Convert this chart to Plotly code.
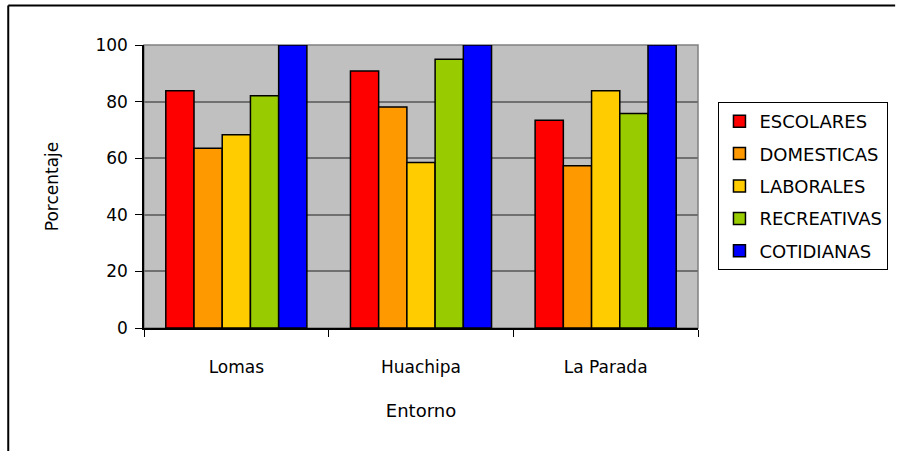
import plotly.graph_objects as go

# Survey results by setting (percent of respondents)
entornos = ["Lomas", "Huachipa", "La Parada"]
series_names = ["ESCOLARES", "DOMESTICAS", "LABORALES", "RECREATIVAS", "COTIDIANAS"]
escolares = [83.8, 90.8, 73.4]
domesticas = [63.5, 78.1, 57.3]
laborales = [68.3, 58.5, 83.8]
recreativas = [82.1, 95.0, 75.8]
cotidianas = [100, 100, 100]
y_ticks = [0, 20, 40, 60, 80, 100]

series_values = [escolares, domesticas, laborales, recreativas, cotidianas]
colors = ["#FF0000", "#FF9900", "#FFCC00", "#99CC00", "#0000FF"]

FONT = "DejaVu Sans"

fig = go.Figure()
for i, (name, vals, col) in enumerate(zip(series_names, series_values, colors)):
    fig.add_trace(go.Bar(
        x=entornos, y=vals, name=name, legendgroup=name,
        marker=dict(color=col, line=dict(color="black", width=1.5)),
    ))

# plot-area pixel geometry: x 143.5..698.5, y 45..328
L, R, T, B = 143.5, 698.5, 45, 328
W, H = R - L, B - T


def px(x):
    return (x - L) / W


def py(y):
    return (B - y) / H


shapes = [
    # plot-area frame in gray
    dict(type="rect", xref="paper", yref="paper", x0=0, x1=1, y0=0, y1=1,
         line=dict(color="#808080", width=1.5), layer="below"),
    # outer chart frame (left and top edges)
    dict(type="line", xref="paper", yref="paper", x0=px(7.5), x1=px(7.5),
         y0=py(5.5), y1=py(470), line=dict(color="black", width=2)),
    dict(type="line", xref="paper", yref="paper", x0=px(7.5), x1=px(896),
         y0=py(5.5), y1=py(5.5), line=dict(color="black", width=2)),
]

fig.update_layout(
    width=900, height=451,
    margin=dict(l=L, r=900 - R, t=T, b=451 - B),
    paper_bgcolor="white",
    plot_bgcolor="#C0C0C0",
    barmode="group",
    bargap=0.236,
    bargroupgap=0,
    font=dict(family=FONT, color="black", size=15),
    showlegend=True,
    legend=dict(
        x=px(719), y=py(102), xanchor="left", yanchor="top",
        bordercolor="black", borderwidth=1, bgcolor="white",
        font=dict(family=FONT, size=18, color="black"),
        traceorder="grouped", tracegroupgap=6,
        itemwidth=30,
    ),
    shapes=shapes,
)

fig.update_xaxes(
    title=dict(text="Entorno", font=dict(family=FONT, size=18), standoff=28),
    showline=True, linecolor="black", linewidth=1.5,
    ticks="outside", tickson="boundaries", ticklen=7, tickcolor="black",
    ticklabelstandoff=23,
    tickfont=dict(family=FONT, size=17),
    showgrid=False,
)
fig.update_yaxes(
    title=dict(text="Porcentaje", font=dict(family=FONT, size=17), standoff=32),
    range=[0, 100], tickvals=y_ticks,
    showline=True, linecolor="black", linewidth=1.5,
    ticks="outside", ticklen=7, tickcolor="black",
    ticklabelstandoff=4,
    tickfont=dict(family=FONT, size=17),
    showgrid=True, gridcolor="#707070", gridwidth=1.5,
    zeroline=False,
)

fig.write_html("out.html")
